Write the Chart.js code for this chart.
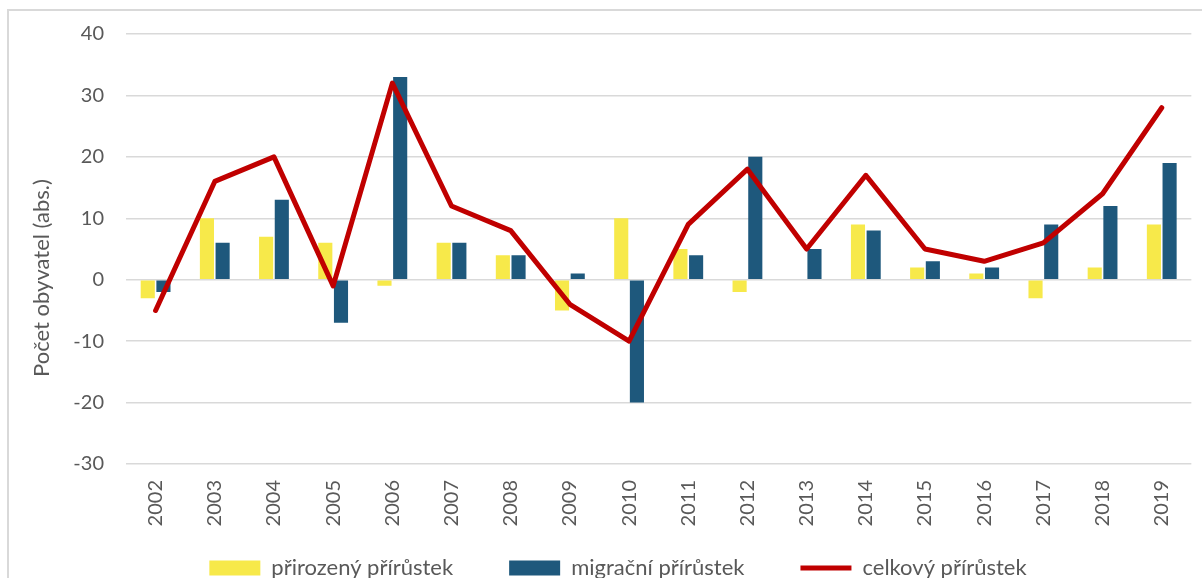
<!DOCTYPE html>
<html>
<head>
<meta charset="utf-8">
<script src="https://cdn.jsdelivr.net/npm/chart.js@4"></script>
<style>
  html, body { margin: 0; padding: 0; background: #fff; overflow: hidden; }
  #wrap { position: relative; width: 1202px; height: 578px; overflow: hidden; }
  #frame { position: absolute; left: 7px; top: 9px; width: 1300px; height: 700px; border: 2px solid #d9d9d9; }
  #chart { position: absolute; left: 0; top: 0; }
</style>
</head>
<body>
<div id="wrap">
  <div id="frame"></div>
  <canvas id="chart" width="1202" height="622"></canvas>
</div>
<script>
const years = ['2002', '2003', '2004', '2005', '2006', '2007', '2008', '2009', '2010',
  '2011', '2012', '2013', '2014', '2015', '2016', '2017', '2018', '2019'];
const prirozeny = [-3, 10, 7, 6, -1, 6, 4, -5, 10, 5, -2, 0, 9, 2, 1, -3, 2, 9];
const migracni = [-2, 6, 13, -7, 33, 6, 4, 1, -20, 4, 20, 5, 8, 3, 2, 9, 12, 19];
const celkovy = [-5, 16, 20, -1, 32, 12, 8, -4, -10, 9, 18, 5, 17, 5, 3, 6, 14, 28];

const FONT = 'Lato';
const GREY = '#595959';
const LEGEND_GAP = 56;

// y axis title, placed like Excel does it (centred on plot + labels)
const yTitle = {
  id: 'yTitle',
  afterDraw(chart) {
    const ctx = chart.ctx;
    ctx.save();
    ctx.translate(42, 278);
    ctx.rotate(-Math.PI / 2);
    ctx.font = '22px ' + FONT;
    ctx.fillStyle = GREY;
    ctx.textAlign = 'center';
    ctx.textBaseline = 'middle';
    ctx.fillText('Počet obyvatel (abs.)', 0, 0);
    ctx.restore();
  }
};

// legend padding is large for the horizontal gaps, pull the row back up
const legendUp = {
  id: 'legendUp',
  afterLayout(chart) {
    const lg = chart.legend;
    const h = lg.bottom - lg.top;
    lg.top = 557 - LEGEND_GAP;
    lg.bottom = lg.top + h;
  }
};

const ctx = document.getElementById('chart').getContext('2d');
new Chart(ctx, {
  type: 'bar',
  data: {
    labels: years,
    datasets: [{
      label: 'přirozený přírůstek',
      data: prirozeny,
      backgroundColor: '#F7E94A',
      borderWidth: 0,
      pointStyle: 'rect',
      order: 1,
      categoryPercentage: 0.53,
      barPercentage: 0.9
    }, {
      label: 'migrační přírůstek',
      data: migracni,
      backgroundColor: '#1E587C',
      borderWidth: 0,
      pointStyle: 'rect',
      order: 1,
      categoryPercentage: 0.53,
      barPercentage: 0.9
    }, {
      type: 'line',
      label: 'celkový přírůstek',
      data: celkovy,
      borderColor: '#C00000',
      backgroundColor: '#C00000',
      borderWidth: 5,
      borderJoinStyle: 'round',
      borderCapStyle: 'round',
      pointRadius: 0,
      pointStyle: 'line',
      tension: 0,
      order: 0
    }]
  },
  options: {
    animation: false,
    responsive: false,
    layout: { padding: { left: 43, right: 9, top: 33, bottom: 0 } },
    plugins: {
      tooltip: { enabled: false },
      legend: {
        position: 'bottom',
        labels: {
          usePointStyle: true,
          pointStyleWidth: 51,
          boxHeight: 15,
          padding: LEGEND_GAP,
          color: GREY,
          font: { family: FONT, size: 22 },
          sort: (a, b) => a.datasetIndex - b.datasetIndex
        }
      }
    },
    scales: {
      x: {
        grid: { display: false, drawTicks: false },
        border: { display: false },
        ticks: {
          color: GREY,
          font: { family: FONT, size: 20 },
          minRotation: 90,
          maxRotation: 90,
          padding: 16
        },
        afterFit(scale) { scale.height = 70; }
      },
      y: {
        min: -30,
        max: 40,
        grid: { color: '#d9d9d9', lineWidth: 1.5, drawTicks: false },
        border: { display: false },
        ticks: {
          stepSize: 10,
          color: GREY,
          font: { family: FONT, size: 20 },
          padding: 22
        },
        afterFit(scale) { scale.width = 83; }
      }
    }
  },
  plugins: [yTitle, legendUp]
});
</script>
</body>
</html>
